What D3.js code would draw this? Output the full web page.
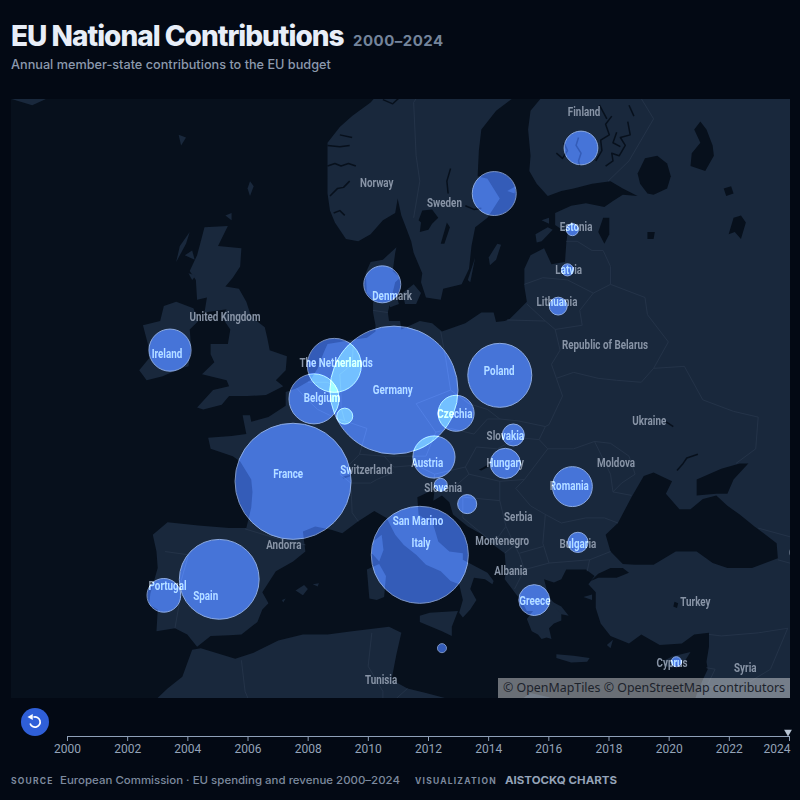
<!DOCTYPE html>
<meta charset="utf-8">
<style>
  html, body { margin: 0; background: #030914; }
  svg { display: block; font-family: Inter, sans-serif; }
  .bubble { mix-blend-mode: plus-lighter; fill: rgb(45,76,156); stroke: rgb(115,130,165); stroke-width: 1; }
  .place { font-family: Roboto, sans-serif; font-weight: 700; font-size: 12px; fill: #8894a6; text-anchor: middle; }
  .border { fill: none; stroke: #27364b; stroke-width: 0.8; }
  .fjord { fill: none; stroke: #07101c; stroke-width: 1.5; stroke-linejoin: round; }
  .axis path, .axis line { stroke: #8fa0b8; }
  .axis text { font-family: Roboto, sans-serif; font-size: 12px; fill: #94a3b8; }
</style>
<svg width="800" height="800"></svg>
<script src="https://d3js.org/d3.v7.min.js"></script>
<script>
  // bubbles: 2024 contribution, bn EUR
  var countries = ["Germany", "France", "Italy", "Spain", "Poland", "The Netherlands", "Belgium", "Sweden", "Austria", "Ireland", "Romania", "Denmark", "Czechia", "Finland", "Portugal", "Greece", "Hungary", "Slovakia", "Bulgaria", "Croatia", "Lithuania", "Luxembourg", "Slovenia", "Latvia", "Estonia", "Cyprus", "Malta"];
  var values = [36, 29.6, 20.7, 14, 9, 6.4, 5.5, 4.25, 3.9, 3.9, 3.5, 3, 2.85, 2.5, 2.5, 2.1, 2, 1.06, 0.9, 0.8, 0.7, 0.56, 0.37, 0.32, 0.32, 0.22, 0.18];
  var bubbleLon = [10.4, 2.2, 12.5, -3.8, 19, 5.55, 3.9, 18.55, 13.65, -7.8, 24.9, 9.45, 15.45, 25.6, -8.3, 21.8, 19.45, 20.1, 25.35, 16.35, 23.75, 6.4, 14.2, 24.5, 24.9, 33.35, 14.3];
  var bubbleLat = [51, 46.1, 41.8, 40.3, 51.75, 52.25, 50.55, 60, 47.45, 53, 45.8, 56.1, 49.8, 61.8, 39.3, 39, 47.1, 48.65, 42.55, 44.8, 55.1, 49.65, 45.9, 56.75, 58.5, 35, 35.9];

  // basemap labels
  var placeNames = ["Finland", "Norway", "Sweden", "Estonia", "Latvia", "Lithuania", "Denmark", "United Kingdom", "Ireland", "Republic of Belarus", "The Netherlands", "Poland", "Germany", "Belgium", "Czechia", "Ukraine", "Slovakia", "Hungary", "Austria", "Moldova", "France", "Switzerland", "Slovenia", "Romania", "San Marino", "Serbia", "Montenegro", "Italy", "Andorra", "Bulgaria", "Albania", "Portugal", "Spain", "Greece", "Turkey", "Tunisia", "Cyprus", "Syria", "Georgia"];
  var placeLon = [25.85, 9, 14.5, 25.2, 24.6, 23.65, 10.25, -3.33, -8.05, 27.55, 5.7, 18.95, 10.3, 4.55, 15.35, 31.15, 19.45, 19.45, 13.1, 28.45, 1.8, 8.15, 14.4, 24.65, 12.35, 20.5, 19.2, 12.6, 1.45, 25.35, 19.9, -8, -4.9, 21.85, 34.9, 9.35, 33, 38.95, 43.9];
  var placeLat = [63.2, 60.45, 59.65, 58.65, 56.8, 55.35, 55.6, 54.65, 52.85, 53.3, 52.4, 52, 51.05, 50.65, 49.8, 49.45, 48.65, 47.15, 47.15, 47.2, 46.55, 46.8, 45.75, 45.9, 43.9, 44.1, 42.7, 42.6, 42.45, 42.5, 40.9, 39.95, 39.35, 39, 38.95, 33.85, 35, 34.65, 42];

  var years = [2000, 2002, 2004, 2006, 2008, 2010, 2012, 2014, 2016, 2018, 2020, 2022, 2024];

  // coastline of the mainland, lon/lat, running from Norway round the Med and closing far outside the frame
  var mainland = [[10.5,65],[9.5,64],[8.5,63.5],[7,63],[6,62.6],[5,62],[5,61],[5,60],[5.2,59.3],[5.6,58.8],[6.5,58.1],[7.5,58],[8.5,58.3],[9.5,58.9],[10.5,59.2],[10.7,59.8],[11,59.1],[11.3,58.7],[11.8,58],[12,57.5],[12.7,56.6],[12.6,56.2],[13,55.5],[14.2,55.4],[14.4,55.9],[15.9,56.1],[16.5,56.8],[16.7,57.8],[17,58.6],[18,59],[19,59.8],[18,60.6],[17.2,60.7],[17.3,61.7],[17.5,62.5],[18.7,63.2],[20.5,63.8],[21.5,65],[24,65.8],[25.3,65.3],[24.6,64.8],[23,64],[21.5,63.2],[21.3,62.5],[21.5,61.5],[21.4,60.9],[22,60.4],[22.9,59.9],[24,60.1],[25,60.2],[26.5,60.4],[28,60.5],[29,60.2],[30.2,59.9],[29,59.95],[28.2,59.7],[27.5,59.45],[26,59.6],[24.8,59.5],[23.5,59.2],[23.5,58.7],[24.5,58.35],[24.4,57.9],[24.3,57.1],[23.2,57],[22.6,57.7],[21.5,57.4],[21,56.8],[21,56],[21.2,55.3],[20.5,54.9],[19.8,54.5],[19.4,54.4],[18.7,54.35],[18.5,54.8],[17.5,54.8],[16.2,54.3],[14.3,53.9],[13.5,54.3],[12.5,54.4],[11,54],[10.9,54.4],[10,54.4],[9.9,54.8],[10.2,55.5],[10.5,56.2],[10.9,56.4],[10.3,56.7],[10.5,57.5],[10.6,57.75],[9.5,57.2],[8.5,57.1],[8.1,56.6],[8.2,55.7],[8.7,55.4],[8.7,54.8],[8.9,54.2],[8.9,53.9],[8.2,53.6],[7,53.5],[6,53.4],[5,53.3],[4.7,52.9],[4.2,52.1],[3.6,51.5],[2.5,51.1],[1.6,50.9],[1.6,50.2],[0.2,49.6],[-1.2,49.35],[-1.3,49.7],[-1.9,49.7],[-1.6,48.7],[-2.8,48.6],[-4.7,48.5],[-4.5,47.9],[-2.7,47.5],[-2.1,47.2],[-1.2,46.2],[-1.1,45.5],[-1.2,44.6],[-1.6,43.4],[-3,43.4],[-5.5,43.55],[-8,43.75],[-9.2,43],[-8.9,42],[-8.8,41],[-9.4,39.4],[-9.5,38.7],[-8.8,38.4],[-8.9,37],[-7.4,37.2],[-6.4,36.8],[-5.6,36],[-4.5,36.7],[-3,36.75],[-2,36.8],[-0.7,37.6],[-0.3,38.4],[0.2,38.8],[-0.3,39.5],[0.8,40.8],[2.2,41.4],[3.2,42],[3,43.2],[4,43.5],[5.3,43.3],[6.2,43.1],[7.5,43.8],[8.8,44.4],[9.8,44],[10.5,43],[11.2,42.4],[12.2,41.8],[13,41.2],[14.2,40.8],[15,40.2],[15.7,40],[16,39],[15.7,38.2],[16,37.9],[16.6,38.4],[17.1,39],[16.6,39.7],[16.9,40.4],[17.8,40.3],[18.4,40],[18.5,40.2],[18,40.7],[16.5,41.3],[16,41.5],[16,41.9],[14.9,42],[14,42.6],[13.6,43.6],[12.4,44.2],[12.3,45.2],[13.7,45.65],[13.6,45],[14.3,45.3],[14.9,44.9],[15.2,44.2],[16.4,43.5],[17.6,43],[18.5,42.4],[19.4,41.9],[19.5,40.9],[19.4,40.3],[20.2,39.5],[20.8,38.9],[21.2,38.3],[21.7,38.3],[21.2,37.8],[21.6,37],[22.1,36.8],[22.4,36.5],[22.8,36.6],[23.2,36.5],[23,37.2],[23.4,37.5],[24,37.7],[24,38.2],[23.2,39],[22.9,39.4],[22.6,40.3],[23.4,40.1],[24,40.3],[24.4,40.9],[26,40.9],[26.7,40.5],[26.2,40],[26.8,39.5],[26.8,38.5],[27.2,37.5],[28,36.7],[29.5,36.2],[30.5,36.8],[32,36.1],[33.8,36.2],[34.8,36.8],[36,36.9],[36,36],[35.8,35],[35.9,34.5],[35.5,33.8],[35,32.8],[34.5,31.5],[33,31.1],[32,31.2],[31,31.5],[30,31.2],[29,30.8],[25,31.6],[23,32.6],[21.5,32.9],[20,32],[20,31],[19,30.3],[16,31.3],[15.2,32.4],[13,32.9],[11.5,33.2],[10.2,33.8],[10.6,35.5],[11,36.9],[10,37.3],[9,37.2],[7,37],[5,36.8],[3,36.8],[1,36.4],[-1,35.6],[-2.5,35.2],[-5.3,35.9],[-6,35.8],[-6.8,34],[-8,33.2],[-9.5,32],[-10,29],[50,29],[50,70],[10.5,70]];

  var islands = [
    [[-5,58.6],[-3.1,58.65],[-3.9,57.8],[-2,57.7],[-2.1,56.9],[-2.7,56.4],[-3.3,56],[-2.2,55.9],[-1.6,55.3],[-1.2,54.6],[-0.1,54.1],[0.1,53.6],[0.3,53],[1.7,52.7],[1.6,52],[0.8,51.5],[1.4,51.2],[0,50.75],[-1.5,50.7],[-3,50.7],[-3.6,50.25],[-5.1,50],[-5.6,50.1],[-4.3,51],[-3,51.2],[-3.2,51.5],[-5.2,51.8],[-4.2,52.4],[-4.5,52.8],[-4.5,53.3],[-3.1,53.3],[-2.9,54],[-3.6,54.6],[-3.2,54.95],[-5,54.8],[-4.8,55.5],[-5.6,55.4],[-5.7,56.3],[-6.2,56.7],[-5.6,57.4],[-5.2,58.2]],
    [[-6.3,52.2],[-6.1,53.3],[-6.2,54],[-5.5,54.4],[-5.9,55],[-7.3,55.3],[-8.3,55.1],[-8.6,54.4],[-10,54.2],[-9.6,53.3],[-9.5,52.6],[-10.3,52],[-9.7,51.5],[-8.4,51.7],[-6.9,52.1]],
    [[-24,65],[-22,63.8],[-19,63.4],[-16,64],[-14,65],[-15,66.5],[-20,66],[-24,66]],
    [[9.4,43],[9.55,42.1],[9.2,41.4],[8.6,41.9],[8.7,42.6]],
    [[8.2,40.9],[9.2,41.25],[9.75,40.5],[9.6,39.2],[9,39],[8.4,39.1]],
    [[12.5,38],[13.3,38.2],[15.6,38.3],[15.1,37.3],[15.1,36.7],[14.3,37],[12.5,37.6]],
    [[23.6,35.5],[25,35.4],[26.3,35.25],[26.1,35],[24.8,34.95],[23.6,35.25]],
    [[32.3,35.05],[33,35.35],[34.5,35.65],[34,35],[33,34.6],[32.5,34.7]],
    [[2.4,39.6],[3.1,39.95],[3.4,39.7],[3,39.3]],
    [[3.8,40],[4.3,40.05],[4.2,39.85]],
    [[1.3,39],[1.6,39.1],[1.4,38.85]],
    [[18.1,57.3],[18.8,57.9],[19.1,57.85],[18.7,57.2],[18.2,56.95]],
    [[16.4,56.3],[17,57.3],[16.6,56.2]],
    [[11.1,55.7],[12,56.1],[12.6,55.7],[12.2,55.2],[11.3,55.2]],
    [[9.8,55.4],[10.6,55.6],[10.8,55.2],[10.1,55.05]],
    [[21.9,58.3],[22.9,58.6],[23.3,58.5],[22.4,58],[22,57.95]],
    [[22.4,58.9],[23,59],[23,58.75]],
    [[-1.3,60.5],[-1,60.3],[-1.3,59.9],[-1.5,60.2]],
    [[-3.3,59.1],[-2.8,59.2],[-2.8,58.9]],
    [[-7.1,62.3],[-6.5,62.2],[-6.9,61.9]],
    [[-7,57.8],[-6.2,58.4],[-6.5,57.9],[-7.3,57.1]],
    [[-6.6,57.4],[-6,57.6],[-5.8,57.2]],
    [[-6.3,56.6],[-5.7,56.5],[-6,56.3]],
    [[27.7,36.1],[28.2,36.45],[28,35.9]],
    [[25.8,39.2],[26.5,39.35],[26.5,39]],
    [[23,39],[24,38.6],[24.6,38],[24,38.1]],
    [[19.6,60.1],[20.3,60.3],[20.2,60]]
  ];

  // inland water
  var seas = [
    [[29,41.25],[28,42],[27.6,43],[28.6,43.7],[29.7,45.2],[30.7,46.4],[31.5,46.6],[33,46.1],[32.5,45.4],[33.6,44.5],[34.5,44.5],[35.5,45.1],[36.6,45.3],[37.5,44.7],[38.5,44.2],[39.7,43.5],[41.5,42.5],[41.6,41.6],[39.5,41],[37.5,41],[36.3,41.3],[35,42],[33.3,42],[31.5,41.2],[30,41.2]],
    [[35,45.3],[35,46.2],[37,46.8],[38.5,47.1],[39.2,47.1],[38,46.2],[37.5,45.4],[36.6,45.4]],
    [[26.2,40.05],[27,40.65],[28,41],[29,41],[29.5,40.7],[28.5,40.4],[27,40.4],[26.4,40.2]],
    [[31,60],[30.4,60.4],[30.2,60.8],[30.8,61.4],[31.8,61.5],[32.6,61.2],[32.9,60.7],[32.6,60.2],[31.5,59.95]],
    [[34.5,61.1],[34.6,61.6],[35.3,62],[34.8,62.5],[35.3,62.8],[35.8,62.5],[36.3,61.9],[36.4,61.5],[35.7,60.9]],
    [[27.4,59],[27,58.4],[27.5,57.9],[27.9,58.3],[27.9,59]],
    [[12.4,58.9],[12.7,59.3],[13.5,59.35],[14,59],[13.5,58.75],[13.2,58.5],[12.5,58.4],[12.6,58.8]],
    [[14.2,57.9],[14.7,58.8],[14.95,58.6],[14.5,57.9]],
    [[37.6,58.3],[38,59],[38.6,59.1],[39,58.8],[38.6,58.1],[38.1,58.4]],
    [[37.2,60.2],[37.8,60.3],[38,60],[37.4,59.9]],
    [[31,58.4],[31.6,58.4],[31.5,58.1],[31,58.1]],
    [[17.3,46.75],[18.1,47.05],[18.2,46.95],[17.5,46.7]],
    [[6.2,46.35],[6.8,46.45],[6.9,46.4],[6.3,46.25]],
    [[33.2,38.9],[33.5,38.8],[33.4,38.5],[33.1,38.6]]
  ];

  // fjords, thin lakes and reservoirs drawn as water strokes
  var fjords = [
    [[5,61.1],[5.6,61.2],[6.1,61.1],[6.7,61.2],[7.3,61.1]],
    [[5.2,59.9],[5.8,60.2],[6.3,60.25],[6.8,60.5]],
    [[5.5,59.2],[6,59.3],[6.4,59.1]],
    [[5,61.9],[6,61.85],[6.8,61.9]],
    [[6,62.3],[7,62.2]],
    [[9.5,63.6],[10.3,63.45],[10.9,63.7],[11.3,63.9]],
    [[25.4,62.2],[25.2,61.9],[25.6,61.6],[25.4,61.3],[25.5,61.1]],
    [[27.6,61.1],[28.2,61.3],[28.1,61.6],[28.7,61.5],[29.2,61.9],[28.8,62.2],[29.6,62.3],[29.4,62.8]],
    [[26.8,61.3],[27.3,61.7],[27.2,62.1],[27.9,62.3],[27.6,62.7],[28.1,63]],
    [[28.8,61.85],[28.2,62],[28.5,62.4]],
    [[23.6,61.6],[24.1,61.4],[24.5,61.7],[24.2,62]],
    [[27.1,63.4],[27.7,62.9]],
    [[29.5,63.4],[29.9,63]],
    [[16.2,59.5],[16.9,59.35],[17.5,59.4]],
    [[14.8,60],[14.7,60.5],[15,61]],
    [[32.4,49.4],[33.1,49.1]],
    [[33.4,46.7],[33.9,47.1],[34.2,47.4],[35.1,47.6]]
  ];

  var borders = [
    [[12,59],[12.5,60.5],[12.2,61.5],[12,63.5],[13.5,64.5]], [[27.8,60.5],[29.5,61.3],[31.5,62.9],[30,64]],
    [[24.4,58],[25.3,58],[26.5,57.6],[27.4,57.6]], [[27.4,57.6],[28,56.9],[28,56.1]], [[21,56.1],[22.5,56.4],[24.5,56.3],[26.6,55.7]], [[26.6,55.7],[28,56.1]],
    [[21.2,55.2],[22.7,54.4],[23.5,54]], [[19.6,54.45],[22.7,54.4]], [[23.5,54],[25.7,54.2],[25.5,54.9],[26.6,55.7]], [[23.5,54],[23.9,53],[23.2,52.3],[23.6,51.6]],
    [[23.6,51.6],[24.1,50.7],[23,49.2],[22.7,49.1]], [[23.6,51.6],[25,51.9],[27,51.6],[28.5,51.5],[30.5,51.4],[31.5,52.1]], [[28,56.1],[30.8,55.5],[31,54.7],[32.7,53.4],[31.5,52.1]],
    [[31.5,52.1],[34,52.2],[35.5,50.5],[38,49.9],[40,49.6],[39.8,47.9],[38.2,47.1]], [[14.2,53.9],[14.6,52.6],[15,51]], [[15,51],[16.5,50.3],[18,50],[19,49.5],[20.5,49.4],[22.7,49.1]],
    [[15,51],[12.2,50.3],[13.8,48.8]], [[13.8,48.8],[13,47.5],[10.5,47.5],[9.6,47.5]], [[9.6,47.5],[7.6,47.6]], [[7.6,47.6],[8.2,49],[6.4,49.4]], [[6.4,49.4],[6.1,50.1],[6.1,50.8],[6,51.8],[7,52.3],[7.1,53.3]],
    [[8.7,54.9],[9.9,54.8]], [[3.4,51.4],[5,51.4],[5.8,51.1],[6,50.8]], [[2.5,51.1],[3.2,50.6],[4.2,50],[5.8,49.5],[6.4,49.4]], [[7.6,47.6],[6,46.5],[6.9,46]], [[6.9,46],[7,44.3],[7.5,43.8]],
    [[6.9,46],[8.5,46],[9,46.2],[10.4,46.6]], [[9.6,47.5],[10.4,46.9]], [[10.4,46.9],[12.2,47],[13.7,46.5]], [[13.8,48.8],[15,49],[16.9,48.7]], [[17.1,48],[16.2,46.9],[13.7,46.5]],
    [[16.9,48.7],[18,49.5],[19,49.5]], [[17.1,48],[18.8,47.9],[20.5,48.5],[22.2,48.4]], [[22.2,48.4],[22.7,49.1]], [[22.2,48.4],[22.9,47.9],[21,46.2]], [[21,46.2],[19,46.1],[16.5,46.5],[16.2,46.9]],
    [[13.7,46.5],[13.6,45.7]], [[16.5,46.5],[15.5,45.9],[13.6,45.5]], [[19,46.1],[19,45],[16,45.2],[16,44],[18.5,42.5]], [[19,45],[19.5,43.5]], [[21,46.2],[20.3,45.7],[21.5,44.7],[22.7,44.2]],
    [[22.7,44.2],[24,43.7],[26,44],[27.5,44],[28.6,43.7]], [[22.9,47.9],[25,47.9],[26.7,48.3],[28,46.5],[28.2,45.5],[29.7,45.3]], [[26.7,48.3],[28,48.2],[29.5,47.5],[30,46.5],[28.9,46],[28.2,45.5]],
    [[22.7,44.2],[22.5,42.5]], [[22.5,42.5],[23,41.3],[26.3,41.5],[28,42]], [[26.3,41.5],[26.1,40.8]], [[23,41.3],[21,40.9],[20.2,39.7]], [[19.4,41.9],[20.2,42.4],[20.6,41.8],[21,40.9]],
    [[18.5,42.5],[19.5,43.5],[20.2,42.4]], [[20.6,41.9],[22.5,42.3]], [[-8.2,42],[-6.3,41.8],[-6.9,40.2],[-7,39],[-7.4,37.2]], [[-1.7,43.35],[0.8,42.8],[3.2,42.4]],
    [[36,36.8],[37,36.7],[40,36.9],[42.4,37.2]], [[42.4,37.2],[41,34.5],[38.8,33.4]], [[35.8,34.6],[36.5,34.5],[35.8,33.3],[38.8,33.4]], [[41.6,41.5],[43.5,41.1],[44.8,39.7]],
    [[8.6,36.9],[8.3,34.7],[9.5,33],[9.5,30]], [[11.5,33.2],[10.3,32.3],[9.5,30]], [[-2,35.1],[-1.7,33],[-1.2,32]], [[40,43.4],[44,42.6]]
  ];

  var svg = d3.select("svg");
  var frame = { x: 11, y: 99, width: 779, height: 599 };

  // title block
  svg.append("text").attr("x", 11).attr("y", 46).attr("font-size", 28).attr("font-weight", 800)
    .attr("letter-spacing", -1).attr("fill", "#e8eef8").text("EU National Contributions");
  svg.append("text").attr("x", 353).attr("y", 46).attr("font-size", 15).attr("font-weight", 700)
    .attr("letter-spacing", 0.5).attr("fill", "#74849b").text("2000–2024");
  svg.append("text").attr("x", 11).attr("y", 69).attr("font-size", 12.7).attr("font-weight", 500)
    .attr("fill", "#8c99ad").text("Annual member-state contributions to the EU budget");

  svg.append("clipPath").attr("id", "frame").append("rect")
    .attr("x", frame.x).attr("y", frame.y).attr("width", frame.width).attr("height", frame.height);

  var projection = d3.geoMercator().scale(705).translate([266, 1122]);
  var line = d3.line().x(function(d) { return projection(d)[0]; }).y(function(d) { return projection(d)[1]; });
  var ring = d3.line().curve(d3.curveLinearClosed).x(line.x()).y(line.y());

  var g = svg.append("g").attr("clip-path", "url(#frame)");
  g.append("rect").attr("x", frame.x).attr("y", frame.y).attr("width", frame.width).attr("height", frame.height).attr("fill", "#07101c");

  g.selectAll(".land").data([mainland].concat(islands)).join("path")
    .attr("class", "land").attr("fill", "#19283c").attr("d", ring);
  g.selectAll(".sea").data(seas).join("path")
    .attr("class", "sea").attr("fill", "#07101c").attr("d", ring);
  g.selectAll(".fjord").data(fjords).join("path")
    .attr("class", "fjord").attr("d", line);
  g.selectAll(".border").data(borders).join("path")
    .attr("class", "border").attr("d", line);

  g.selectAll(".place").data(placeNames).join("text")
    .attr("class", "place")
    .attr("transform", function(d, i) {
      var p = projection([placeLon[i], placeLat[i]]);
      return "translate(" + p[0] + "," + (p[1] + 5) + ") scale(0.82,1)";
    })
    .text(function(d) { return d; });

  var r = d3.scaleSqrt().domain([0, 36]).range([0, 64]);

  g.selectAll(".bubble").data(countries).join("circle")
    .attr("class", "bubble")
    .attr("cx", function(d, i) { return projection([bubbleLon[i], bubbleLat[i]])[0]; })
    .attr("cy", function(d, i) { return projection([bubbleLon[i], bubbleLat[i]])[1]; })
    .attr("r", function(d, i) { return r(values[i]); });

  // attribution
  svg.append("rect").attr("x", 498).attr("y", 678).attr("width", 292).attr("height", 20).attr("fill", "rgba(255,255,255,0.4)");
  svg.append("text").attr("x", 785).attr("y", 692).attr("text-anchor", "end").attr("font-family", "'Noto Sans', sans-serif")
    .attr("font-size", 12.4).attr("fill", "#1c222b").text("© OpenMapTiles © OpenStreetMap contributors");

  // timeline
  var x = d3.scaleLinear().domain([2000, 2024]).range([67, 789]);
  var axis = d3.axisBottom(x).tickValues(years).tickFormat(d3.format("d")).tickSize(5).tickPadding(3);
  var axisG = svg.append("g").attr("class", "axis").attr("transform", "translate(0,736)").call(axis);
  axisG.selectAll(".tick text").filter(function(d) { return d === 2024; }).attr("text-anchor", "end").attr("dx", 1);
  svg.append("path").attr("d", d3.symbol(d3.symbolTriangle, 26)())
    .attr("fill", "#b8c4d4").attr("transform", "translate(788,732) rotate(180)");

  // replay button
  var btn = svg.append("g").attr("transform", "translate(35,722)");
  btn.append("circle").attr("r", 14).attr("fill", "#2f5fd8");
  btn.append("path").attr("d", d3.arc()({ innerRadius: 4.3, outerRadius: 6, startAngle: -0.3, endAngle: 4.4 })).attr("fill", "#fff");
  btn.append("path").attr("d", d3.symbol(d3.symbolTriangle, 16)()).attr("fill", "#fff").attr("transform", "translate(-4,-5) rotate(-90)");

  // footer
  var foot = svg.append("g").attr("fill", "#7d8a9e");
  foot.append("text").attr("x", 11).attr("y", 784).attr("font-size", 8.5).attr("font-weight", 700).attr("letter-spacing", 1.2).text("SOURCE");
  foot.append("text").attr("x", 60).attr("y", 784).attr("font-size", 11).attr("font-weight", 500).attr("textLength", 340).attr("lengthAdjust", "spacingAndGlyphs").text("European Commission · EU spending and revenue 2000–2024");
  foot.append("text").attr("x", 415).attr("y", 784).attr("font-size", 8.5).attr("font-weight", 700).attr("letter-spacing", 1.2).text("VISUALIZATION");
  foot.append("text").attr("x", 505).attr("y", 784).attr("font-size", 11).attr("font-weight", 700).attr("fill", "#95a3b8").attr("textLength", 112).attr("lengthAdjust", "spacingAndGlyphs").text("AISTOCKQ CHARTS");
</script>
